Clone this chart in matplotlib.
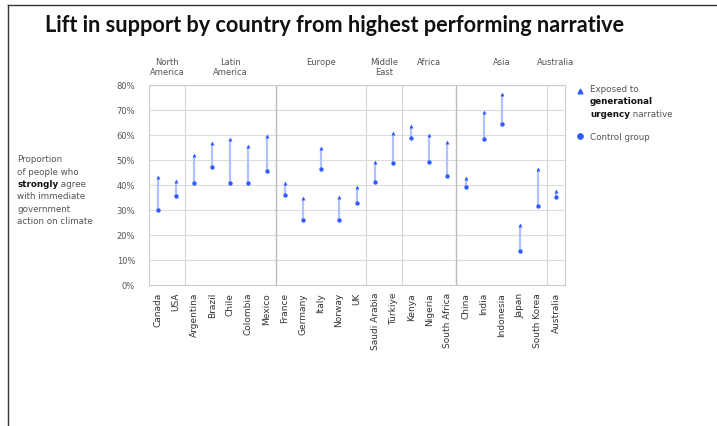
import matplotlib
matplotlib.use("Agg")
import matplotlib.pyplot as plt
import matplotlib.transforms as mtransforms
from matplotlib.lines import Line2D

# Countries in display order, with the share (%) who strongly agree
countries = ["Canada", "USA", "Argentina", "Brazil", "Chile", "Colombia", "Mexico",
             "France", "Germany", "Italy", "Norway", "UK", "Saudi Arabia", "Türkiye",
             "Kenya", "Nigeria", "South Africa", "China", "India", "Indonesia",
             "Japan", "South Korea", "Australia"]
exposed = [43.3, 41.6, 52.1, 56.7, 58.4, 55.7, 59.7,
           40.8, 34.7, 54.8, 35.3, 39.2, 49.3, 60.8,
           63.5, 59.9, 57.1, 42.8, 69.3, 76.3,
           24.1, 46.4, 37.5]
control = [30.1, 35.5, 40.7, 47.2, 40.7, 40.7, 45.6,
           36.1, 26.0, 46.4, 26.0, 32.7, 41.2, 48.9,
           58.7, 49.2, 43.5, 39.3, 58.3, 64.5,
           13.7, 31.7, 35.2]

# Regions: label and number of countries in each
regions = ["North\nAmerica", "Latin\nAmerica", "Europe", "Middle\nEast", "Africa", "Asia", "Australia"]
region_sizes = [2, 5, 5, 2, 3, 5, 1]
y_ticks = [0, 10, 20, 30, 40, 50, 60, 70, 80]

BLUE = "#2f5cff"
STEM = "#b3c1ff"
GRID = "#dcdcdc"
TEXT = "#555555"

W, H = 717, 427
fig = plt.figure(figsize=(W / 100, H / 100), dpi=100)
fig.patch.set_facecolor("white")

ax = fig.add_axes([149 / W, 1 - 286 / H, (565 - 149) / W, 200 / H])
x = list(range(len(countries)))

for xi, lo, hi in zip(x, control, exposed):
    ax.plot([xi, xi], [lo, hi], color=STEM, lw=1.6, zorder=2, solid_capstyle="butt")
ax.scatter(x, control, marker="o", s=10, color=BLUE, zorder=3, linewidths=0)
ax.scatter(x, exposed, marker="^", s=8, color=BLUE, zorder=3, linewidths=0)

ax.set_xlim(-0.5, len(countries) - 0.5)
ax.set_ylim(0, 80)
ax.set_yticks(y_ticks)
ax.set_yticklabels([f"{v}%" for v in y_ticks], fontsize=6, color=TEXT)
ax.set_xticks(x)
ax.set_xticklabels(countries, rotation=90, fontsize=6.5, color="#333333")
ax.tick_params(length=0, pad=5)
ax.tick_params(axis="y", pad=10)
ax.grid(axis="y", color=GRID, lw=0.8)
ax.set_axisbelow(True)
for s in ax.spines.values():
    s.set_color("#cccccc")
    s.set_linewidth(0.8)

# Region separators and headers
header_tf = mtransforms.blended_transform_factory(ax.transData, fig.transFigure)
start = 0
for name, n in zip(regions, region_sizes):
    end = start + n
    if end < len(countries):
        dark = name in ("Latin\nAmerica", "Africa")
        ax.axvline(end - 0.5, color="#bbbbbb" if dark else "#d6d6d6", lw=1.0 if dark else 0.8, zorder=1)
    center = (start + end - 1) / 2
    fig.text(center, 1 - 58 / H, name, ha="center", va="top", fontsize=6, color=TEXT,
             linespacing=1.1, transform=header_tf)
    start = end

# Title
fig.text(45 / W, 1 - 25 / H, "Lift in support by country from highest performing narrative",
         fontsize=15.6, fontweight="bold", family="Lato", color="#111111", va="center", ha="left")

# Side annotation
lines = [("Proportion", None), ("of people who", None), ("strongly", " agree"),
         ("with immediate", None), ("government", None), ("action on climate", None)]
y0 = 160
for i, (a, b) in enumerate(lines):
    yy = 1 - (y0 + i * 12.3) / H
    if b is None:
        fig.text(17 / W, yy, a, fontsize=6.3, color=TEXT, va="center")
    else:
        t = fig.text(17 / W, yy, a, fontsize=6.3, color="#111111", fontweight="bold", va="center")
        fig.canvas.draw()
        bb = t.get_window_extent()
        fig.text(bb.x1 / W, yy, b, fontsize=6.3, color=TEXT, va="center")

# Legend
fig.add_artist(Line2D([580 / W], [1 - 92 / H], marker="^", color=BLUE, markersize=3.4, lw=0,
                      transform=fig.transFigure))
fig.add_artist(Line2D([580 / W], [1 - 137 / H], marker="o", color=BLUE, markersize=3.8, lw=0,
                      transform=fig.transFigure))
lx = 590 / W
fig.text(lx, 1 - 90 / H, "Exposed to", fontsize=6.3, color=TEXT, va="center")
fig.text(lx, 1 - 102 / H, "generational", fontsize=6.3, color="#111111", fontweight="bold", va="center")
t = fig.text(lx, 1 - 114.5 / H, "urgency", fontsize=6.3, color="#111111", fontweight="bold", va="center")
fig.canvas.draw()
bb = t.get_window_extent()
fig.text(bb.x1 / W, 1 - 114.5 / H, " narrative", fontsize=6.3, color=TEXT, va="center")
fig.text(lx, 1 - 137 / H, "Control group", fontsize=6.3, color=TEXT, va="center")

# Frame lines along the top and left edge
fig.add_artist(Line2D([8 / W, 1], [1 - 6 / H, 1 - 6 / H], color="#333333", lw=1.0, transform=fig.transFigure))
fig.add_artist(Line2D([8 / W, 8 / W], [0, 1 - 6 / H], color="#333333", lw=1.0, transform=fig.transFigure))

fig.savefig("out.png", dpi=100, facecolor="white")
